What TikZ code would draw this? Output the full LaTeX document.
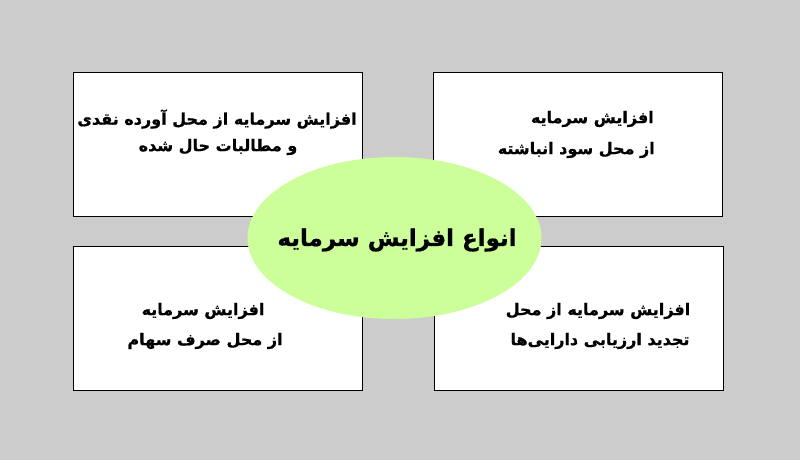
\documentclass[tikz,border=0pt]{standalone}
\usepackage{fontspec}
\newfontfamily\arabicfont[Script=Arabic, BoldFeatures={FakeBold=0.8}]{DejaVu Sans}
\TeXXeTstate=1
\usetikzlibrary{shapes.geometric}
\definecolor{bg}{HTML}{CCCCCC}
\definecolor{ell}{HTML}{CCFF99}
\tikzset{
  box/.style={draw=black, line width=1pt, fill=white, minimum width=289pt, minimum height=144pt, inner sep=0pt},
  txt/.style={font=\arabicfont\bfseries\fontsize{16}{18}\selectfont, inner sep=0pt},
  bigtxt/.style={font=\arabicfont\bfseries\fontsize{23}{26}\selectfont, inner sep=0pt}
}
\begin{document}
\begin{tikzpicture}[x=1pt,y=-1pt]
\fill[bg] (0,0) rectangle (800,460);
\useasboundingbox (0,0) rectangle (800,460);
\node[box] (tl) at (217.5,144) {};
\node[box] (tr) at (578,144) {};
\node[box] (bl) at (217.5,318) {};
\node[box] (br) at (578.5,318) {};
\node[ellipse, fill=ell, minimum width=294pt, minimum height=162pt, inner sep=0pt] (c) at (394.5,238) {};
\node[bigtxt] (ct) at (397,240) {\beginR انواع افزایش سرمایه\endR};
\node[txt] (tl1) at (217,119) {\beginR افزایش سرمایه از محل آورده نقدی\endR};
\node[txt] (tl2) at (218,147) {\beginR و مطالبات حال شده\endR};
\node[txt, anchor=east] (tr1) at (654,119) {\beginR افزایش سرمایه\endR};
\node[txt, anchor=east] (tr2) at (655,150) {\beginR از محل سود انباشته\endR};
\node[txt] (bl1) at (203,311) {\beginR افزایش سرمایه\endR};
\node[txt] (bl2) at (205,341) {\beginR از محل صرف سهام\endR};
\node[txt] (br1) at (598,311) {\beginR افزایش سرمایه از محل\endR};
\node[txt] (br2) at (600,341) {\beginR تجدید ارزیابی دارایی‌ها\endR};
\end{tikzpicture}
\end{document}
